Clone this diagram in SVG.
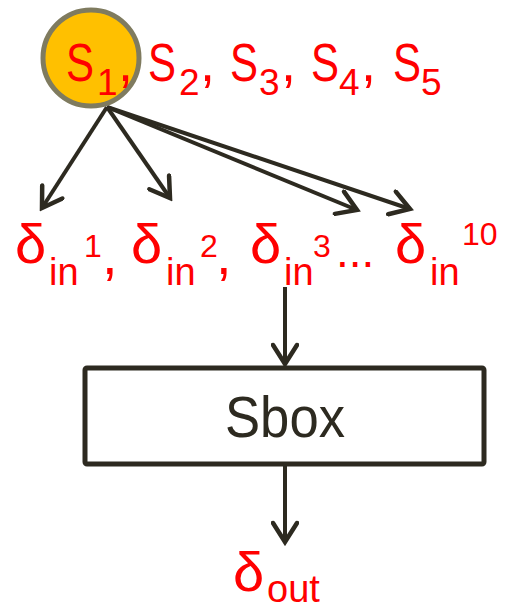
<svg xmlns="http://www.w3.org/2000/svg" width="506" height="610" viewBox="0 0 506 610">
  <style>
    text { font-family: "Liberation Sans", Arial, sans-serif; }
    .red { fill: #ff0000; }
    .big { font-size: 54px; }
    .sub { font-size: 37px; }
    .d { font-size: 56px; }
    .in { font-size: 38px; }
    .sup { font-size: 32px; }
    .wire { stroke: #2d2a20; stroke-width: 4; fill: none; }
  </style>
  <defs>
    <marker id="arrow" markerUnits="userSpaceOnUse" viewBox="-24 -14 28 28" markerWidth="28" markerHeight="28" refX="0" refY="0" orient="auto">
      <path d="M-19,-12 L0,0 L-19,12" fill="none" stroke="#2d2a20" stroke-width="4.5" stroke-linecap="round" stroke-linejoin="miter"/>
    </marker>
  </defs>

  <g id="connectors">
    <line class="wire" x1="107" y1="107" x2="42" y2="208" marker-end="url(#arrow)"/>
    <line class="wire" x1="107" y1="107" x2="170" y2="198" marker-end="url(#arrow)"/>
    <line class="wire" x1="107" y1="107" x2="357" y2="210" marker-end="url(#arrow)"/>
    <line class="wire" x1="107" y1="107" x2="410" y2="209" marker-end="url(#arrow)"/>
    <line class="wire" x1="285" y1="287" x2="285" y2="364" marker-end="url(#arrow)"/>
    <line class="wire" x1="285" y1="466" x2="285" y2="542" marker-end="url(#arrow)"/>
  </g>

  <g id="s1-node">
    <circle cx="91" cy="58" r="48" fill="#ffc000" stroke="#7f7b5f" stroke-width="5"/>
  </g>

  <g id="sboxes-row" class="red">
    <text class="big" x="66" y="81" textLength="28" lengthAdjust="spacingAndGlyphs">S</text>
    <text class="sub" x="97" y="95">1</text>
    <text class="big" x="118" y="81">,</text>
    <text class="big" x="148" y="81" textLength="28" lengthAdjust="spacingAndGlyphs">S</text>
    <text class="sub" x="179" y="95">2</text>
    <text class="big" x="200" y="81">,</text>
    <text class="big" x="230" y="81" textLength="28" lengthAdjust="spacingAndGlyphs">S</text>
    <text class="sub" x="259" y="95">3</text>
    <text class="big" x="281" y="81">,</text>
    <text class="big" x="311" y="81" textLength="28" lengthAdjust="spacingAndGlyphs">S</text>
    <text class="sub" x="339" y="95">4</text>
    <text class="big" x="361" y="81">,</text>
    <text class="big" x="393" y="81" textLength="28" lengthAdjust="spacingAndGlyphs">S</text>
    <text class="sub" x="421" y="95">5</text>
  </g>

  <g id="delta-in-row" class="red">
    <text class="d" x="15" y="263">δ</text>
    <text class="in" x="49" y="285">in</text>
    <text class="sup" x="84" y="257">1</text>
    <text class="d" x="102" y="274">,</text>
    <text class="d" x="131" y="263">δ</text>
    <text class="in" x="166" y="285">in</text>
    <text class="sup" x="200" y="257">2</text>
    <text class="d" x="216" y="274">,</text>
    <text class="d" x="250" y="263">δ</text>
    <text class="in" x="284" y="285">in</text>
    <text class="sup" x="313" y="257">3</text>
    <text style="font-size:46px" x="336" y="267">...</text>
    <text class="d" x="395" y="263">δ</text>
    <text class="in" x="430" y="285">in</text>
    <text class="sup" x="462" y="245">10</text>
  </g>

  <g id="sbox">
    <rect x="85" y="368" width="399" height="96" rx="2" fill="#ffffff" stroke="#2d2a20" stroke-width="5"/>
    <text x="225" y="437" font-size="58" fill="#2d2a20" textLength="120" lengthAdjust="spacingAndGlyphs">Sbox</text>
  </g>

  <g id="delta-out" class="red">
    <text class="d" x="233" y="591">δ</text>
    <text class="in" x="267" y="602">out</text>
  </g>
</svg>
